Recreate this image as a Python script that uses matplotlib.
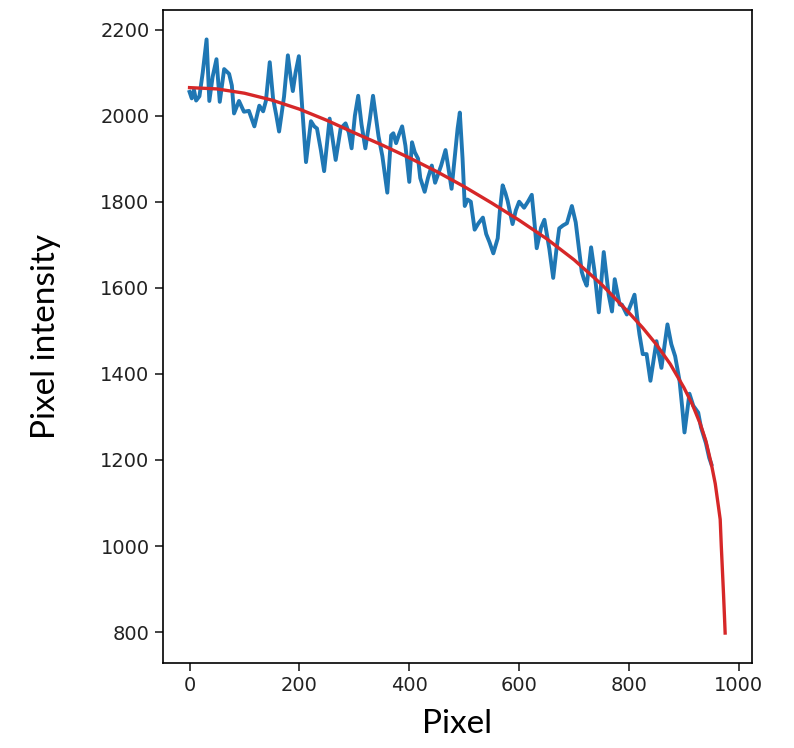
import matplotlib
matplotlib.use("Agg")
import matplotlib.pyplot as plt

pixel = [0, 4, 8, 12, 18, 24, 31, 36, 42, 49, 55, 63, 72, 77, 81, 90, 99, 108, 118, 127,
         134, 139, 146, 152, 158, 163, 172, 179, 184, 188, 193, 199, 205, 212, 221, 227, 232, 239, 245, 255,
         260, 266, 275, 284, 290, 295, 301, 307, 313, 320, 328, 334, 340, 344, 351, 360, 367, 371, 376, 381,
         387, 393, 400, 405, 410, 416, 420, 428, 434, 441, 447, 458, 466, 471, 477, 485, 488, 492, 497, 501,
         506, 512, 519, 526, 534, 540, 546, 553, 561, 565, 570, 575, 579, 588, 594, 600, 609, 616, 623, 628,
         632, 640, 646, 655, 662, 668, 673, 680, 687, 696, 703, 708, 714, 718, 723, 731, 737, 745, 750, 754,
         763, 769, 774, 783, 787, 796, 803, 810, 815, 819, 825, 832, 839, 850, 859, 865, 870, 877, 884, 892,
         897, 901, 910, 917, 926, 931, 940, 946, 950]
intensity = [2055, 2040, 2060, 2035, 2045, 2100, 2177, 2034, 2090, 2131, 2032, 2108, 2097, 2070, 2005, 2034, 2009, 2011, 1975, 2023,
             2010, 2034, 2124, 2040, 2000, 1963, 2044, 2140, 2090, 2057, 2100, 2138, 2020, 1892, 1987, 1975, 1970, 1920, 1871, 1993,
             1950, 1897, 1970, 1982, 1960, 1924, 2000, 2046, 1980, 1924, 1990, 2046, 1990, 1952, 1906, 1821, 1954, 1959, 1936, 1955,
             1975, 1930, 1846, 1938, 1915, 1900, 1855, 1823, 1855, 1884, 1844, 1884, 1920, 1880, 1830, 1932, 1970, 2007, 1900, 1790,
             1805, 1800, 1735, 1750, 1763, 1725, 1706, 1680, 1715, 1780, 1838, 1820, 1802, 1748, 1780, 1800, 1786, 1800, 1816, 1750,
             1692, 1740, 1758, 1690, 1623, 1690, 1738, 1745, 1750, 1790, 1752, 1700, 1637, 1620, 1605, 1694, 1640, 1543, 1620, 1683,
             1584, 1545, 1620, 1561, 1561, 1538, 1560, 1584, 1530, 1492, 1446, 1446, 1384, 1476, 1414, 1470, 1515, 1469, 1441, 1384,
             1320, 1264, 1354, 1326, 1310, 1276, 1239, 1205, 1190]

# fitted curve
fit_x = [0, 50, 100, 150, 200, 250, 300, 350, 400, 450, 500, 550, 600, 650, 700, 750, 800, 825, 850, 875,
         900, 915, 930, 940, 950, 957, 963, 966, 968, 970, 972, 974, 975]
fit_y = [2065, 2062, 2052, 2036, 2015, 1989, 1960, 1932, 1902, 1870, 1835, 1797, 1757, 1714, 1665, 1608, 1542, 1507, 1468, 1423,
         1368, 1330, 1283, 1244, 1190, 1145, 1090, 1062, 1000, 945, 890, 830, 798]

fig = plt.figure(figsize=(7.94, 7.48), dpi=100)
ax = fig.add_axes([0.205, 0.114, 0.742, 0.873])

ax.plot(pixel, intensity, color="#1f77b4", lw=2.8)
ax.plot(fit_x, fit_y, color="#d62728", lw=2.4)

ax.set_yticks([800, 1000, 1200, 1400, 1600, 1800, 2000, 2200])
ax.set_xticks([0, 200, 400, 600, 800, 1000])
ax.tick_params(labelsize=14, length=6, width=1.2, colors="#222222")
for s in ax.spines.values():
    s.set_linewidth(1.2)

lab_font = ["Lato", "DejaVu Sans"]
ax.set_xlabel("Pixel", fontsize=24, family=lab_font, labelpad=10)
ax.set_ylabel("Pixel intensity", fontsize=24, family=lab_font, labelpad=28)

fig.savefig("out.png", dpi=100)
